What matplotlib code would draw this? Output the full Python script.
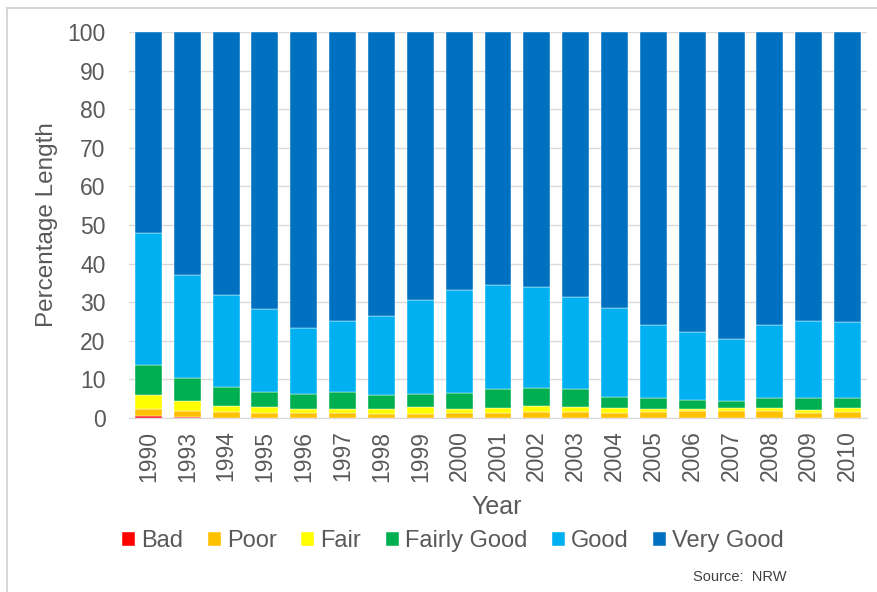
import numpy as np
import matplotlib.pyplot as plt
from matplotlib.lines import Line2D

plt.rcParams['font.family'] = ['Liberation Sans', 'DejaVu Sans']

years = ["1990", "1993", "1994", "1995", "1996", "1997", "1998", "1999", "2000", "2001",
         "2002", "2003", "2004", "2005", "2006", "2007", "2008", "2009", "2010"]

# cumulative tops, converted to segment sizes below
bad_top = [0.4, 0.35, 0, 0, 0, 0, 0, 0, 0, 0, 0, 0, 0, 0, 0, 0, 0, 0, 0]
poor_top = [2.35, 1.75, 1.5, 1.3, 1.3, 1.3, 1.05, 1.05, 1.3, 1.3,
            1.55, 1.55, 1.4, 1.55, 1.75, 1.8, 1.8, 1.3, 1.55]
fair_top = [5.9, 4.35, 3.0, 2.8, 2.3, 2.3, 2.3, 2.8, 2.35, 2.5,
            3.0, 2.8, 2.5, 2.3, 2.3, 2.5, 2.5, 2.0, 2.5]
fgood_top = [13.65, 10.3, 8.0, 6.7, 6.2, 6.7, 6.0, 6.3, 6.5, 7.6,
             7.75, 7.5, 5.5, 5.1, 4.6, 4.4, 5.1, 5.1, 5.1]
good_top = [47.9, 37.0, 31.9, 28.2, 23.3, 25.1, 26.4, 30.6, 33.2, 34.5,
            33.9, 31.3, 28.5, 24.1, 22.3, 20.5, 24.1, 25.1, 24.9]

tops = [bad_top, poor_top, fair_top, fgood_top, good_top, [100] * len(years)]
labels = ["Bad", "Poor", "Fair", "Fairly Good", "Good", "Very Good"]
colors = ["#FF0000", "#FFC000", "#FFFF00", "#00B050", "#00B0F0", "#0070C0"]
grey = "#595959"

fig = plt.figure(figsize=(8.77, 5.92), dpi=100)
ax = fig.add_axes([129 / 877, 1 - 418 / 592, (867 - 129) / 877, (418 - 32) / 592])

x = np.arange(len(years))
prev = np.zeros(len(years))
handles = []
for top, lab, col in zip(tops, labels, colors):
    top = np.array(top, dtype=float)
    h = ax.bar(x, top - prev, bottom=prev, width=0.695, color=col, label=lab,
               edgecolor="white", linewidth=0.3, zorder=2)
    handles.append(h)
    prev = top

ax.set_ylim(0, 100)
ax.set_xlim(-0.5, len(years) - 0.5)
ax.set_yticks(np.arange(0, 101, 10))
ax.set_xticks(x)
ax.set_xticklabels(years, rotation=90, fontsize=16.5)
ax.yaxis.grid(True, color="#D9D9D9", linewidth=1, zorder=0)
ax.set_axisbelow(True)
for s in ["top", "right", "left"]:
    ax.spines[s].set_visible(False)
ax.spines["bottom"].set_color("#D9D9D9")
ax.tick_params(axis="y", length=0, labelsize=16.5, colors=grey, pad=17)
ax.tick_params(axis="x", length=0, colors=grey, pad=9)

fig.text(47 / 877, 1 - 225 / 592, "Percentage Length", rotation=90, fontsize=17.5,
         color=grey, ha="center", va="center")
fig.text(497 / 877, 1 - 507 / 592, "Year", fontsize=18, color=grey, ha="center", va="center")

fig.legend(handles, labels, loc="center", bbox_to_anchor=(453 / 877, 1 - 541 / 592), ncol=6,
           frameon=False, fontsize=17, handlelength=0.55, handleheight=0.55,
           handletextpad=0.25, columnspacing=1.05, labelcolor=grey)

fig.text(693 / 877, 1 - 577 / 592, "Source:  NRW", fontsize=10.5, color="#404040", va="center")

# outer chart frame: only top and left edges fall inside the picture
fig.add_artist(Line2D([6.5 / 877, 6.5 / 877], [0, 1 - 8 / 592], transform=fig.transFigure,
                      color="#D0D0D0", linewidth=1.2))
fig.add_artist(Line2D([6.5 / 877, 1], [1 - 8 / 592, 1 - 8 / 592], transform=fig.transFigure,
                      color="#D0D0D0", linewidth=1.2))

fig.savefig("out.png", dpi=100)
